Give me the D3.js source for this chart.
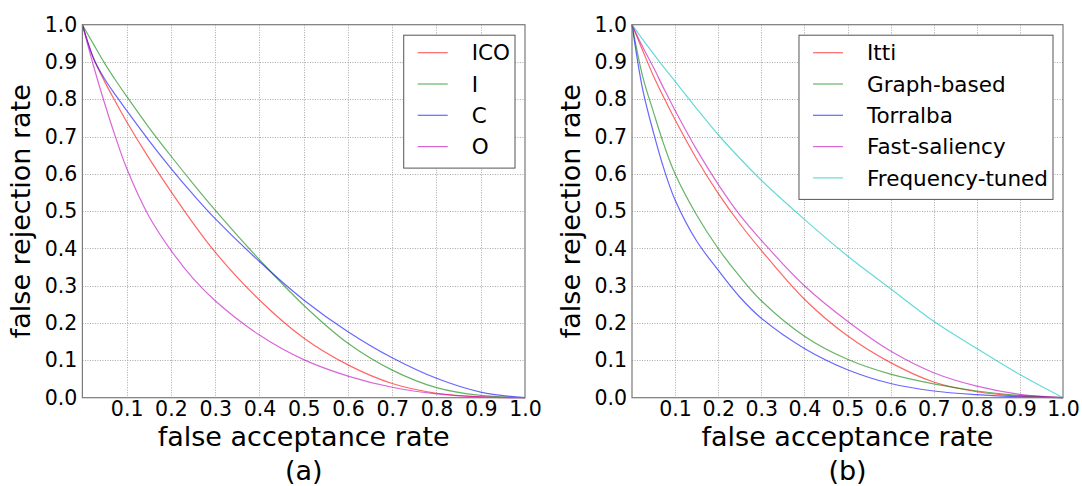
<!DOCTYPE html>
<html>
<head>
<meta charset="utf-8">
<script src="https://cdn.jsdelivr.net/npm/d3@7"></script>
<style>
  body { margin: 0; background: #fff; }
  svg { display: block; font-family: "DejaVu Sans", sans-serif; }
</style>
</head>
<body>
<svg id="chart" width="1082" height="486"></svg>
<script>
'use strict';

// false acceptance rate, the x sample points shared by every curve
const far = [0, 0.025, 0.05, 0.075, 0.1, 0.15, 0.2, 0.25, 0.3, 0.4, 0.5, 0.6, 0.7, 0.8, 0.9, 1.0];

// (a) channel combinations -- false rejection rate at each far value
const frrICO = [1.0, 0.91, 0.848, 0.793, 0.74, 0.643, 0.553, 0.468, 0.39, 0.262, 0.16, 0.088, 0.038, 0.012, 0.002, 0];
const frrI   = [1.0, 0.948, 0.897, 0.851, 0.808, 0.725, 0.648, 0.574, 0.503, 0.37, 0.248, 0.146, 0.074, 0.027, 0.006, 0];
const frrC   = [1.0, 0.91, 0.855, 0.811, 0.77, 0.69, 0.615, 0.545, 0.48, 0.365, 0.262, 0.177, 0.107, 0.052, 0.015, 0];
const frrO   = [1.0, 0.89, 0.79, 0.698, 0.615, 0.487, 0.395, 0.32, 0.26, 0.168, 0.102, 0.058, 0.028, 0.01, 0.002, 0];

// (b) saliency methods
const frrItti      = [1.0, 0.93, 0.862, 0.802, 0.745, 0.64, 0.548, 0.467, 0.395, 0.264, 0.166, 0.094, 0.042, 0.016, 0.004, 0];
const frrGraph     = [1.0, 0.86, 0.765, 0.675, 0.6, 0.49, 0.4, 0.325, 0.26, 0.165, 0.103, 0.063, 0.037, 0.018, 0.006, 0];
const frrTorralba  = [1.0, 0.825, 0.71, 0.61, 0.53, 0.42, 0.342, 0.27, 0.213, 0.132, 0.075, 0.038, 0.018, 0.008, 0.002, 0];
const frrFast      = [1.0, 0.94, 0.885, 0.826, 0.77, 0.665, 0.572, 0.49, 0.422, 0.30, 0.205, 0.125, 0.067, 0.031, 0.009, 0];
const frrFrequency = [1.0, 0.96, 0.922, 0.884, 0.848, 0.775, 0.705, 0.642, 0.583, 0.478, 0.38, 0.292, 0.205, 0.132, 0.062, 0];

const namesA = ["ICO", "I", "C", "O"];
const namesB = ["Itti", "Graph-based", "Torralba", "Fast-saliency", "Frequency-tuned"];

const gridTicks = [0, 0.1, 0.2, 0.3, 0.4, 0.5, 0.6, 0.7, 0.8, 0.9, 1.0];
const xTickValues = [0.1, 0.2, 0.3, 0.4, 0.5, 0.6, 0.7, 0.8, 0.9, 1.0];
const yTickValues = [0, 0.1, 0.2, 0.3, 0.4, 0.5, 0.6, 0.7, 0.8, 0.9, 1.0];

const xLabel = "false acceptance rate";
const yLabel = "false rejection rate";

// matplotlib classic r, g, b, m, c drawn at alpha 0.6
const colors = ["rgba(255,0,0,0.6)", "rgba(0,128,0,0.6)", "rgba(0,0,255,0.6)", "rgba(191,0,191,0.6)", "rgba(0,191,191,0.6)"];

const TOP = 24.7;
const BOTTOM = 397.7;

let svg = d3.select("#chart");

let drawPanel = function (left, right, names, curves, caption) {

  let x = d3.scaleLinear().domain([0, 1]).range([left, right]);
  let y = d3.scaleLinear().domain([0, 1]).range([BOTTOM, TOP]);
  let g = svg.append("g");

  // dotted grid
  let grid = g.append("g")
    .attr("stroke", "#a8a8a8")
    .attr("stroke-width", 1)
    .attr("stroke-dasharray", "1,1.5");
  grid.selectAll("line.v").data(gridTicks.slice(1, -1)).enter().append("line")
    .attr("class", "v")
    .attr("x1", d => Math.round(x(d)) + 0.5).attr("x2", d => Math.round(x(d)) + 0.5)
    .attr("y1", TOP).attr("y2", BOTTOM);
  grid.selectAll("line.h").data(gridTicks.slice(1, -1)).enter().append("line")
    .attr("class", "h")
    .attr("x1", left).attr("x2", right)
    .attr("y1", d => Math.round(y(d)) + 0.5).attr("y2", d => Math.round(y(d)) + 0.5);

  // curves
  let line = d3.line()
    .x((d, i) => x(far[i]))
    .y(d => y(d))
    .curve(d3.curveCatmullRom.alpha(0.5));

  g.append("g").selectAll("path").data(curves).enter().append("path")
    .attr("d", d => line(d))
    .attr("fill", "none")
    .attr("stroke", (d, i) => colors[i])
    .attr("stroke-width", 1.2);

  // frame
  g.append("rect")
    .attr("x", left).attr("y", TOP)
    .attr("width", right - left).attr("height", BOTTOM - TOP)
    .attr("fill", "none")
    .attr("stroke", "#7a7a7a")
    .attr("stroke-width", 1.2);

  // axes (labels only)
  let xAxis = g.append("g")
    .attr("transform", "translate(0," + (BOTTOM + 4) + ")")
    .call(d3.axisBottom(x).tickValues(xTickValues).tickFormat(d3.format(".1f")).tickSize(0).tickPadding(0));
  let yAxis = g.append("g")
    .attr("transform", "translate(" + (left - 5) + ",0)")
    .call(d3.axisLeft(y).tickValues(yTickValues).tickFormat(d3.format(".1f")).tickSize(0).tickPadding(0));
  [xAxis, yAxis].forEach(function (a) {
    a.select(".domain").remove();
    a.attr("font-family", null).attr("font-size", null);
    a.selectAll("text").attr("font-size", 20.5).attr("fill", "#000");
  });

  g.append("text")
    .attr("x", (left + right) / 2).attr("y", 446)
    .attr("text-anchor", "middle")
    .attr("font-size", 27)
    .text(xLabel);

  g.append("text")
    .attr("transform", "translate(" + (left - 52) + "," + ((TOP + BOTTOM) / 2) + ") rotate(-90)")
    .attr("text-anchor", "middle")
    .attr("font-size", 27)
    .text(yLabel);

  g.append("text")
    .attr("x", (left + right) / 2).attr("y", 480)
    .attr("text-anchor", "middle")
    .attr("font-size", 27)
    .text(caption);

  // legend, anchored to the upper right corner
  const ROW = 31.3;
  let legend = g.append("g");
  let box = legend.append("rect")
    .attr("fill", "#fff")
    .attr("stroke", "#555")
    .attr("stroke-width", 1);
  let items = legend.selectAll("g").data(names).enter().append("g");
  items.append("line")
    .attr("x1", 0).attr("x2", 30)
    .attr("stroke", (d, i) => colors[i])
    .attr("stroke-width", 1.2);
  let labels = items.append("text")
    .attr("x", 54)
    .attr("dy", "0.36em")
    .attr("font-size", 21.5)
    .text(d => d);
  let textWidth = d3.max(labels.nodes(), n => n.getComputedTextLength());
  let boxRight = right - 10;
  let boxLeft = boxRight - (54 + textWidth + 5) - 14;
  items.attr("transform", (d, i) => "translate(" + (boxLeft + 14) + "," + (TOP + 28 + i * ROW) + ")");
  box.attr("x", boxLeft).attr("y", TOP + 10.5)
    .attr("width", boxRight - boxLeft)
    .attr("height", (names.length - 1) * ROW + 39);
};

drawPanel(82.4, 525, namesA, [frrICO, frrI, frrC, frrO], "(a)");
drawPanel(632, 1063, namesB, [frrItti, frrGraph, frrTorralba, frrFast, frrFrequency], "(b)");
</script>
</body>
</html>
